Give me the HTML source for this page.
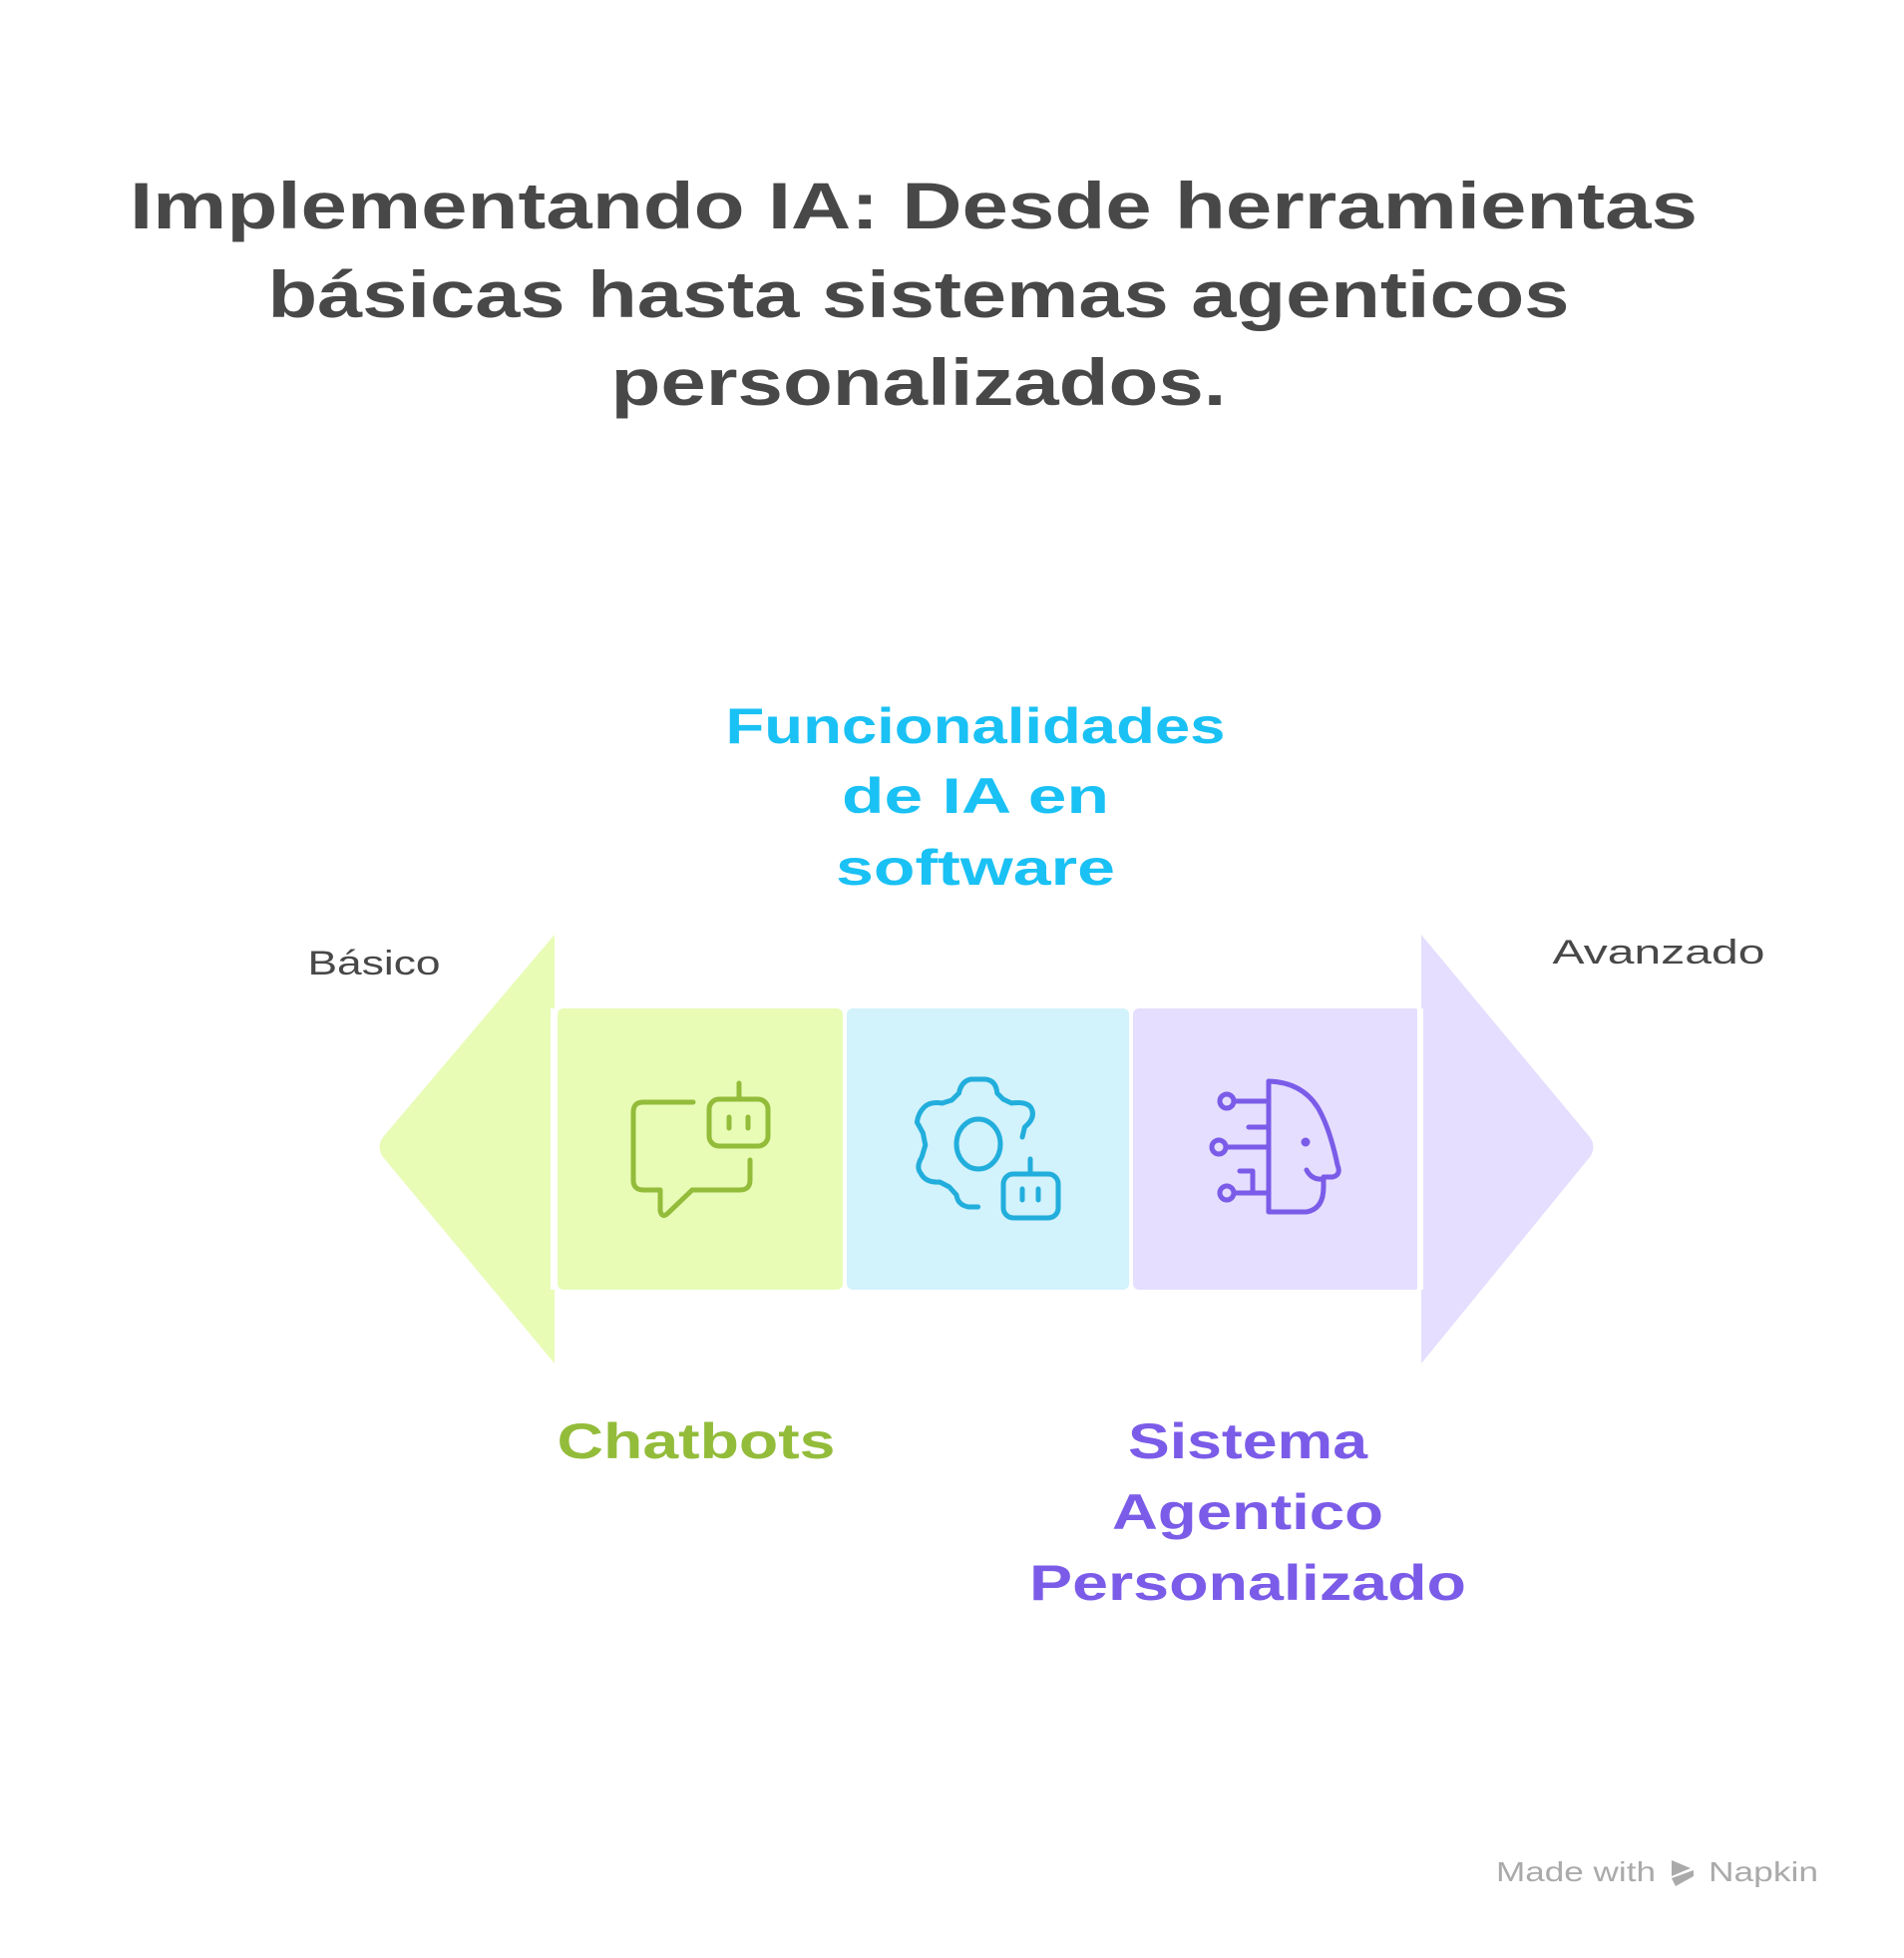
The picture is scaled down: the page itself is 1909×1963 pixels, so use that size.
<!DOCTYPE html>
<html><head><meta charset="utf-8"><style>
html,body{margin:0;padding:0;background:#fff;}
svg{display:block;}
</style></head><body>
<svg width="1909" height="1963" viewBox="0 0 1909 1963" xmlns="http://www.w3.org/2000/svg">
<rect width="1909" height="1963" fill="#fff"/>
<g font-family="Liberation Sans, sans-serif" font-weight="bold" text-anchor="middle" fill="#484848" font-size="66">
<text x="916" y="229" textLength="1572" lengthAdjust="spacingAndGlyphs">Implementando IA: Desde herramientas</text>
<text x="921" y="318" textLength="1305" lengthAdjust="spacingAndGlyphs">básicas hasta sistemas agenticos</text>
<text x="921" y="406" textLength="617" lengthAdjust="spacingAndGlyphs">personalizados.</text>
</g>
<!-- arrows -->
<path d="M556 937 L556 1367 L384 1160 Q377 1150 384 1140 Z" fill="#E8FCB6"/>
<path d="M1425 937 L1425 1367 L1594 1160 Q1601 1150 1594 1140 Z" fill="#E5DEFE"/>
<rect x="559" y="1011" width="286" height="282" rx="6" fill="#E8FCB6"/>
<rect x="849" y="1011" width="283" height="282" rx="6" fill="#D2F2FC"/>
<rect x="1136" y="1011" width="288" height="282" rx="6" fill="#E5DEFE"/>
<rect x="552" y="1011" width="7" height="282" fill="#fff"/>
<rect x="1421" y="1011" width="6" height="282" fill="#fff"/>
<!-- chat icon -->
<g fill="none" stroke="#93BC3A" stroke-width="5" stroke-linecap="round" stroke-linejoin="round">
<path d="M695 1105 H645 Q635 1105 635 1115 V1183 Q635 1193 645 1193 H662 V1214 Q664 1222 670 1216 L694 1193 H742 Q752 1193 752 1183 V1163"/>
<rect x="711" y="1102" width="59" height="47" rx="10"/>
<path d="M741 1102 V1086 M731 1120 V1131 M750 1120 V1131"/>
</g>
<!-- gear icon -->
<g fill="none" stroke="#22AEDC" stroke-width="5" stroke-linecap="round" stroke-linejoin="round">
<ellipse cx="981" cy="1147" rx="22" ry="25"/>
<path transform="translate(1037,0) scale(1.2,1) translate(-1037,0)" vector-effect="non-scaling-stroke" d="M1027 1140 L1029 1130 Q1039 1120 1034 1110 Q1030 1104 1018 1106 L1011 1102 L1006 1096 Q1005 1083 996 1082 H984 Q976 1084 974 1096 L968 1103 L960 1106 Q950 1104 945 1110 Q940 1116 939 1125 L944 1136 L946 1148 L943 1160 Q938 1170 942 1176 Q946 1186 958 1185 L966 1190 L972 1198 Q973 1208 982 1210 H990"/>
<rect x="1006" y="1177" width="55" height="44" rx="10"/>
<path d="M1033 1177 V1162 M1025 1192 V1203 M1041 1192 V1203"/>
</g>
<!-- head icon -->
<g fill="none" stroke="#7B5CE8" stroke-width="5" stroke-linecap="round" stroke-linejoin="round">
<path d="M1272 1084 V1215 H1310 Q1327 1212 1327 1190 V1180 H1336 Q1345 1178 1341 1168 Q1333 1130 1321 1110 Q1305 1085 1272 1084 Z"/>
<path d="M1310 1173 Q1315 1183 1326 1182"/>
<circle cx="1230" cy="1104" r="7"/><path d="M1237 1104 H1272"/>
<circle cx="1222" cy="1150" r="7"/><path d="M1229 1150 H1272"/>
<circle cx="1230" cy="1196" r="7"/><path d="M1237 1196 H1272"/>
<path d="M1252 1130 H1272 M1243 1174 H1256 V1196"/>
<circle cx="1309" cy="1145" r="2" fill="#7B5CE8"/>
</g>
<!-- labels -->
<g font-family="Liberation Sans, sans-serif" font-weight="bold" text-anchor="middle" font-size="50">
<text x="978" y="745" fill="#1AC1F4" textLength="501" lengthAdjust="spacingAndGlyphs">Funcionalidades</text>
<text x="978" y="815" fill="#1AC1F4" textLength="268" lengthAdjust="spacingAndGlyphs">de IA en</text>
<text x="978" y="887" fill="#1AC1F4" textLength="280" lengthAdjust="spacingAndGlyphs">software</text>
<text x="698" y="1462" fill="#93BC3A" textLength="279" lengthAdjust="spacingAndGlyphs">Chatbots</text>
<text x="1251" y="1462" fill="#7B5CE8" textLength="240" lengthAdjust="spacingAndGlyphs">Sistema</text>
<text x="1251" y="1533" fill="#7B5CE8" textLength="272" lengthAdjust="spacingAndGlyphs">Agentico</text>
<text x="1251" y="1604" fill="#7B5CE8" textLength="438" lengthAdjust="spacingAndGlyphs">Personalizado</text>
</g>
<g font-family="Liberation Sans, sans-serif" text-anchor="middle" font-size="34" fill="#484848">
<text x="375" y="977" textLength="133" lengthAdjust="spacingAndGlyphs">Básico</text>
<text x="1663" y="966" textLength="213" lengthAdjust="spacingAndGlyphs">Avanzado</text>
</g>
<g font-family="Liberation Sans, sans-serif" font-size="28" fill="#AAAAAA">
<text x="1500" y="1886" textLength="160" lengthAdjust="spacingAndGlyphs">Made with</text>
<path d="M1676 1865 L1695 1873 L1676 1881 Z M1676 1883 L1698 1875 L1698 1881 L1680 1891 Z" fill="#AAAAAA"/>
<text x="1713" y="1886" textLength="110" lengthAdjust="spacingAndGlyphs">Napkin</text>
</g>
</svg>
</body></html>
